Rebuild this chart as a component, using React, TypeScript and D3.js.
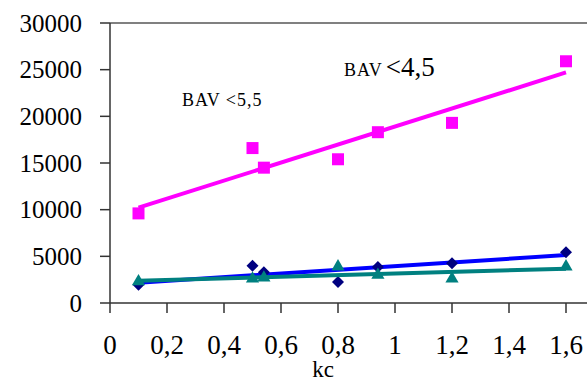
import React from "react";
import * as d3 from "d3";

// kc values shared by all three series
const kc = [0.1, 0.5, 0.54, 0.8, 0.94, 1.2, 1.6];
const bav45 = [9600, 16600, 14500, 15400, 18300, 19300, 25900]; // pink squares
const bav55 = [1950, 4000, 3300, 2250, 3850, 4250, 5450]; // navy diamonds
const bavTeal = [2300, 2600, 2700, 3900, 3000, 2600, 3900]; // teal triangles

const xTicks = [0, 0.2, 0.4, 0.6, 0.8, 1, 1.2, 1.4, 1.6];
const yTicks = [0, 5000, 10000, 15000, 20000, 25000, 30000];

const fmt = (v: number) => String(v).replace(".", ",");

// least-squares trend line, like Excel's linear trendline
function trend(xs: number[], ys: number[]) {
  const mx = d3.mean(xs)!;
  const my = d3.mean(ys)!;
  const sxy = d3.sum(xs, (x, i) => (x - mx) * (ys[i] - my));
  const sxx = d3.sum(xs, (x) => (x - mx) ** 2);
  const b = sxy / sxx;
  const a = my - b * mx;
  const [x0, x1] = d3.extent(xs) as [number, number];
  return [
    [x0, a + b * x0],
    [x1, a + b * x1],
  ] as [number, number][];
}

export default function App() {
  const width = 587;
  const height = 383;
  const left = 110;
  const top = 23;
  const bottom = 303;

  const x = d3.scaleLinear().domain([0, 1.7]).range([left, left + 8.5 * 57]);
  const y = d3.scaleLinear().domain([0, 30000]).range([bottom, top]);

  const line = d3
    .line<[number, number]>()
    .x((d) => x(d[0]))
    .y((d) => y(d[1]));

  const diamond = "M0,-6L6,0L0,6L-6,0Z";
  const triangle = d3.symbol(d3.symbolTriangle, 75)()!;

  const font = "Liberation Serif, Times New Roman, Times, DejaVu Serif, serif";

  return (
    <svg
      width={width}
      height={height}
      style={{ position: "absolute", left: 0, top: 0, background: "#fff" }}
      fontFamily={font}
    >
      {/* frame */}
      <line x1={left} x2={width} y1={top} y2={top} stroke="#808080" strokeWidth={2} />
      <line x1={left} x2={left} y1={top} y2={bottom} stroke="#333" strokeWidth={1.5} />
      <line x1={left} x2={width} y1={bottom} y2={bottom} stroke="#333" strokeWidth={1.5} />

      {yTicks.map((t) => (
        <g key={"y" + t}>
          <line x1={left - 10} x2={left} y1={y(t)} y2={y(t)} stroke="#333" strokeWidth={1.5} />
          <text x={82} y={y(t)} dy="0.35em" textAnchor="end" fontSize={25} fill="#000">
            {t}
          </text>
        </g>
      ))}
      {xTicks.map((t) => (
        <g key={"x" + t}>
          <line x1={x(t)} x2={x(t)} y1={bottom} y2={bottom + 10} stroke="#333" strokeWidth={1.5} />
          <text x={x(t)} y={354} textAnchor="middle" fontSize={27} fill="#000">
            {fmt(t)}
          </text>
        </g>
      ))}
      <text x={323} y={377} textAnchor="middle" fontSize={23} fill="#000">
        kc
      </text>

      {/* pink series */}
      <path d={line(trend(kc, bav45))!} stroke="#FF00FF" strokeWidth={4} fill="none" />
      {kc.map((k, i) => (
        <rect key={"p" + i} x={x(k) - 6} y={y(bav45[i]) - 6} width={12} height={12} fill="#FF00FF" />
      ))}

      {/* navy / blue series */}
      <path d={line(trend(kc, bav55))!} stroke="#0000FF" strokeWidth={4} fill="none" />
      {kc.map((k, i) => (
        <path key={"d" + i} d={diamond} transform={`translate(${x(k)},${y(bav55[i])})`} fill="#000080" />
      ))}

      {/* teal series */}
      <path d={line(trend(kc, bavTeal))!} stroke="#008080" strokeWidth={4} fill="none" />
      {kc.map((k, i) => (
        <path key={"t" + i} d={triangle} transform={`translate(${x(k)},${y(bavTeal[i])})`} fill="#008080" />
      ))}

      <text x={182} y={106} fontSize={18} fill="#000" letterSpacing={1}>
        BAV &lt;5,5
      </text>
      <text x={344} y={76} fill="#000">
        <tspan fontSize={18} letterSpacing={1}>BAV</tspan>
        <tspan fontSize={27} dx={3}>&lt;4,5</tspan>
      </text>
    </svg>
  );
}
